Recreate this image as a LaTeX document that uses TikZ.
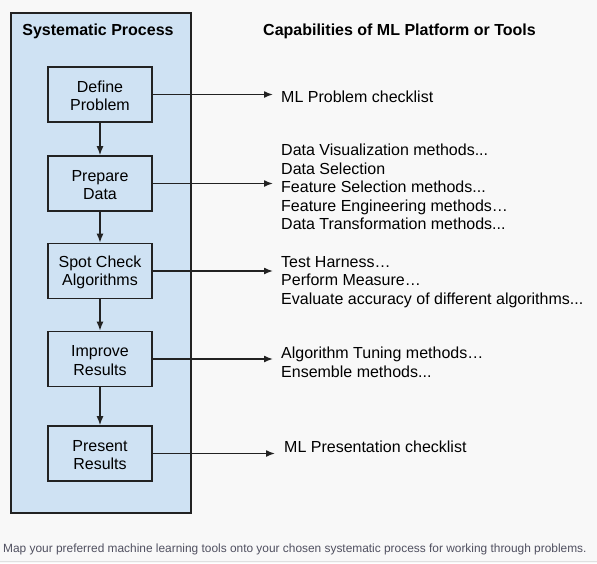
\documentclass[tikz,border=0pt]{standalone}
\usepackage{fontspec}
\setmainfont{Liberation Sans}
\usetikzlibrary{arrows.meta,positioning}
\definecolor{PanelBlue}{RGB}{207,226,243}
\definecolor{PageGray}{RGB}{248,248,248}
\definecolor{EdgeGray}{RGB}{34,34,34}
\definecolor{NoteGray}{RGB}{80,80,96}
\newcommand{\bodysize}{\fontsize{16}{18.6}\selectfont}
\newcommand{\boxlift}{\rule{0pt}{14.5pt}}

\begin{document}
\begin{tikzpicture}[x=1pt,y=-1pt,>={Latex[length=9pt,width=7pt]},
    stepbox/.style={draw=EdgeGray,line width=1.6pt,fill=PanelBlue,
      minimum width=104pt,minimum height=55pt,align=center,inner sep=0pt,font=\bodysize},
    caplist/.style={anchor=west,align=left,inner sep=0pt,font=\bodysize},
    headtext/.style={inner sep=0pt,font=\bodysize\bfseries},
    flow/.style={->,line width=1.5pt,EdgeGray}]
  % page and frame
  \fill[PageGray] (0,0) rectangle (597,563);
  \useasboundingbox (0,0) rectangle (597,563);
  \draw[black!12,line width=1pt] (0,561.5) -- (597,561.5);
  \draw[EdgeGray,line width=1.8pt,fill=PanelBlue] (11,13) rectangle (191,513);
  \node[headtext] (sysHead) at (98,31) {Systematic Process};
  \node[headtext] (capHead) at (399.5,31) {Capabilities of ML Platform or Tools};
  % process steps
  \node[stepbox] (define) at (100,94.5) {\boxlift Define\\Problem};
  \node[stepbox] (prepare) at (100,183.5) {\boxlift Prepare\\Data};
  \node[stepbox] (spot) at (100,271) {\boxlift Spot Check\\Algorithms};
  \node[stepbox] (improve) at (100,359) {\boxlift Improve\\Results};
  \node[stepbox] (present) at (100,453.5) {\boxlift Present\\Results};
  % capabilities
  \node[caplist] (probList) at (281,97) {ML Problem checklist};
  \node[caplist] (dataList) at (281,187) {Data Visualization methods...\\Data Selection\\Feature Selection methods...\\Feature Engineering methods…\\Data Transformation methods...};
  \node[caplist] (testList) at (281,282) {Test Harness…\\Perform Measure…\\Evaluate accuracy of different algorithms...};
  \node[caplist] (tuneList) at (281,362) {Algorithm Tuning methods…\\Ensemble methods...};
  \node[caplist] (presList) at (284,447) {ML Presentation checklist};
  % arrows
  \draw[flow] (define) -- (prepare);
  \draw[flow] (prepare) -- (spot);
  \draw[flow] (spot) -- (improve);
  \draw[flow] (improve) -- (present);
  \draw[flow,shorten >=8pt] (define.east) -- (define.east -| probList.west);
  \draw[flow,shorten >=8pt] (prepare.east) -- (prepare.east -| dataList.west);
  \draw[flow,shorten >=8pt] (spot.east) -- (spot.east -| testList.west);
  \draw[flow,shorten >=8pt] (improve.east) -- (improve.east -| tuneList.west);
  \draw[flow,shorten >=9pt] (present.east) -- (present.east -| presList.west);
  \node[anchor=west,inner sep=0pt,NoteGray,font=\fontsize{11.9}{14}\selectfont] (note) at (3,549)
    {Map your preferred machine learning tools onto your chosen systematic process for working through problems.};
\end{tikzpicture}
\end{document}
